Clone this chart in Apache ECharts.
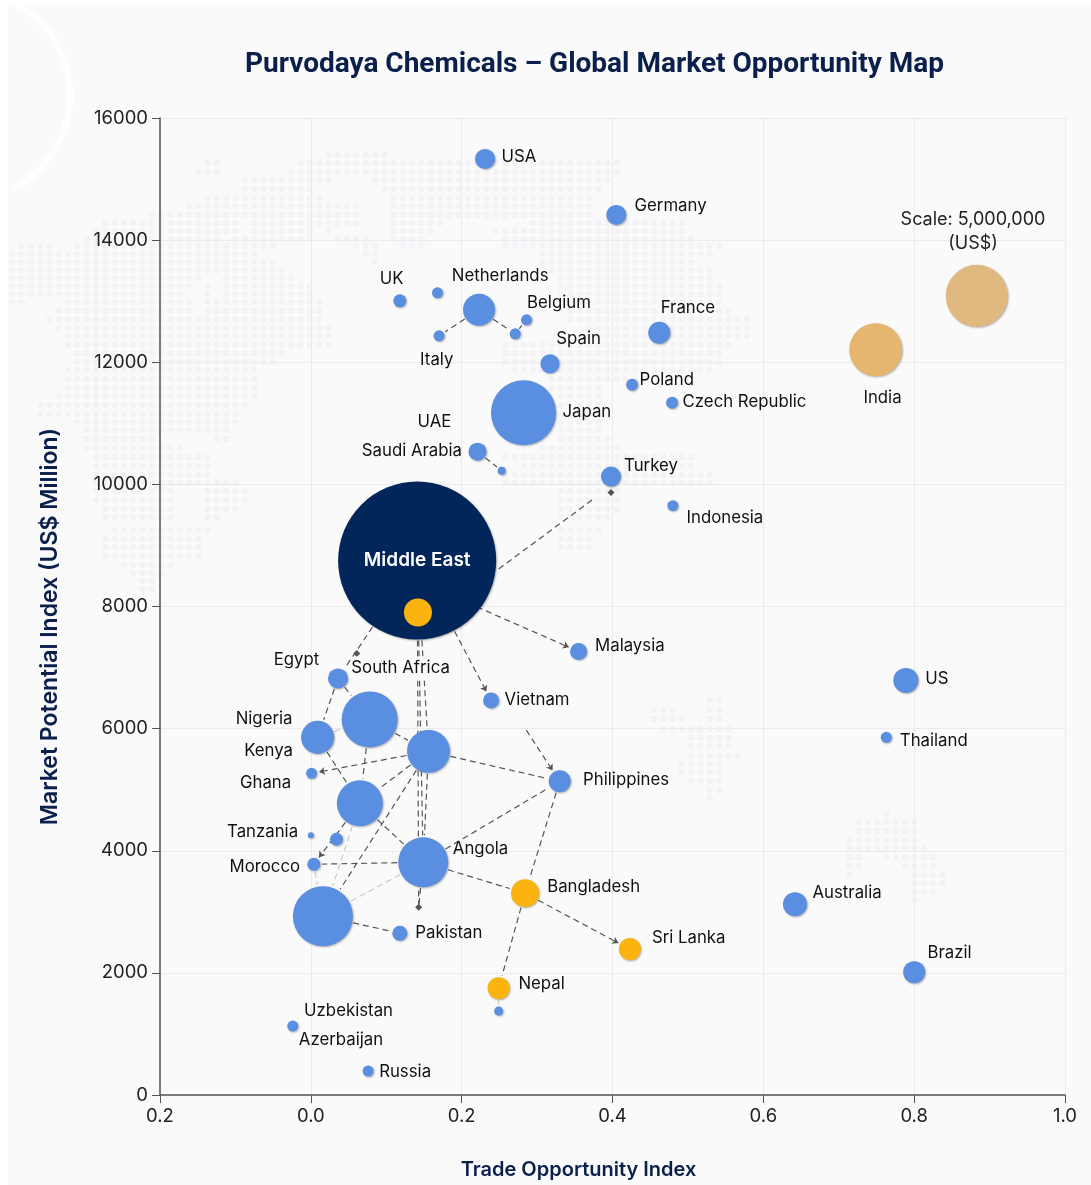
<!DOCTYPE html>
<html>
<head>
<meta charset="utf-8">
<title>Global Market Opportunity Map</title>
<script src="https://cdn.jsdelivr.net/npm/echarts@6/dist/echarts.min.js"></script>
<style>
  html, body { margin: 0; padding: 0; background: #ffffff; }
  #chart { width: 1091px; height: 1185px; }
</style>
</head>
<body>
<div id="chart"></div>
<script>
// bubbles: trade index, market potential, market size in US$
const bubbleNames = ['USA', 'Germany', 'UK', 'Netherlands', 'Hub North', 'Belgium', 'Link Dot', 'Italy', 'France', 'Spain', 'Poland', 'Czech Republic', 'Japan', 'Saudi Arabia', 'UAE', 'Turkey', 'Indonesia', 'Middle East', 'Middle East Core', 'Malaysia', 'Egypt', 'Vietnam', 'South Africa', 'Nigeria', 'Kenya', 'Ghana', 'Philippines', 'Hub Central', 'Tanzania', 'Hub Dot', 'Morocco', 'Angola', 'Bangladesh', 'Hub South', 'Pakistan', 'Sri Lanka', 'Nepal', 'Nepal Dot', 'Brazil', 'Australia', 'Thailand', 'US', 'Uzbekistan', 'Russia', 'India', 'Scale'];
const tradeIndex = [0.231, 0.405, 0.118, 0.168, 0.223, 0.286, 0.271, 0.170, 0.462, 0.317, 0.426, 0.479, 0.282, 0.221, 0.253, 0.398, 0.480, 0.141, 0.142, 0.355, 0.036, 0.239, 0.078, 0.009, 0.156, 0.001, 0.330, 0.065, 0.000, 0.034, 0.004, 0.149, 0.284, 0.016, 0.118, 0.423, 0.249, 0.249, 0.800, 0.642, 0.763, 0.789, -0.024, 0.076, 0.749, 0.883];
const marketPotential = [15330, 14413, 13006, 13137, 12859, 12695, 12466, 12433, 12482, 11975, 11632, 11337, 11174, 10536, 10225, 10127, 9652, 8752, 7902, 7264, 6822, 6462, 6151, 5857, 5628, 5268, 5137, 4777, 4254, 4188, 3779, 3812, 3305, 2928, 2650, 2389, 1750, 1374, 2012, 3125, 5857, 6789, 1129, 393, 12205, 13088];
const marketSize = [520000, 520000, 220000, 157000, 1330000, 157000, 157000, 157000, 630000, 470000, 187000, 187000, 5500000, 421000, 83000, 520000, 157000, 32500000, 1020000, 376000, 520000, 333000, 4080000, 1420000, 2400000, 157000, 630000, 2750000, 47000, 220000, 220000, 3250000, 1020000, 4680000, 293000, 630000, 630000, 105000, 630000, 750000, 157000, 813000, 157000, 157000, 3650000, 5000000];
const highlightBubbles = ['Middle East Core', 'Bangladesh', 'Sri Lanka', 'Nepal'];

// text labels, placed in data units
const labelTexts = ['USA', 'Germany', 'Scale: 5,000,000\n(US$)', 'UK', 'Netherlands', 'Belgium', 'France', 'Spain', 'Italy', 'Poland', 'Czech Republic', 'Japan', 'India', 'UAE', 'Saudi Arabia', 'Turkey', 'Indonesia', 'Middle East', 'Malaysia', 'Egypt', 'South Africa', 'Vietnam', 'US', 'Nigeria', 'Thailand', 'Kenya', 'Philippines', 'Ghana', 'Tanzania', 'Morocco', 'Angola', 'Australia', 'Bangladesh', 'Sri Lanka', 'Pakistan', 'Brazil', 'Nepal', 'Uzbekistan', 'Azerbaijan', 'Russia'];
const labelX = [0.276, 0.477, 0.878, 0.107, 0.251, 0.329, 0.500, 0.355, 0.167, 0.472, 0.575, 0.366, 0.758, 0.164, 0.134, 0.451, 0.549, 0.141, 0.423, -0.019, 0.119, 0.300, 0.830, -0.062, 0.826, -0.056, 0.418, -0.060, -0.064, -0.061, 0.225, 0.711, 0.375, 0.501, 0.183, 0.847, 0.306, 0.050, 0.040, 0.125];
const labelY = [15378, 14577, 14151, 13382, 13431, 12990, 12908, 12401, 12057, 11730, 11370, 11207, 11436, 11043, 10569, 10323, 9472, 8769, 7378, 7149, 7002, 6479, 6822, 6168, 5808, 5644, 5170, 5121, 4319, 3746, 4041, 3321, 3419, 2585, 2667, 2339, 1832, 1391, 916, 393];

// little diamonds sitting on some links, and the loose ends of links
const diamondX = [0.398, 0.061, 0.143];
const diamondY = [9865, 7231, 3076];
const looseEnds = {
  'Pakistan Mark': [0.143, 3076],
  'Vietnam Tail': [0.285, 5988],
  'Middle East Foot': [0.219, 8000],
  'Middle East Flank': [0.248, 8606],
  'Turkey Tail': [0.379, 9800]
};

const plainLinks = [
  ['Middle East Flank', 'Turkey Tail'], ['Middle East', 'Egypt'], ['Middle East', 'Kenya'], ['Middle East', 'Angola'],
  ['Middle East', 'Pakistan Mark'], ['Egypt', 'Nigeria'], ['Egypt', 'South Africa'], ['South Africa', 'Kenya'],
  ['Nigeria', 'Hub Central'], ['South Africa', 'Hub Central'], ['Kenya', 'Philippines'], ['Kenya', 'Hub Central'],
  ['Kenya', 'Hub South'], ['Kenya', 'Angola'], ['Hub Central', 'Angola'], ['Angola', 'Morocco'],
  ['Angola', 'Philippines'], ['Angola', 'Bangladesh'], ['Philippines', 'Bangladesh'], ['Bangladesh', 'Nepal'],
  ['Angola', 'Pakistan Mark'], ['Hub North', 'Italy'], ['Hub North', 'Link Dot'], ['Link Dot', 'Belgium'],
  ['Saudi Arabia', 'UAE'], ['Hub South', 'Pakistan']
];
const arrowLinks = [
  ['Middle East Foot', 'Malaysia'], ['Middle East', 'Vietnam'], ['Kenya', 'Ghana'], ['Hub Central', 'Morocco'],
  ['Bangladesh', 'Sri Lanka'], ['Vietnam Tail', 'Philippines']
];
const faintLinks = [
  ['Nigeria', 'South Africa'], ['Morocco', 'Hub South'], ['Angola', 'Hub South'], ['Nepal', 'Nepal Dot'], ['Hub Central', 'Hub South']
];

const xTickLabels = ['0.2', '0.0', '0.2', '0.4', '0.6', '0.8', '1.0'];

// faint dotted world map behind the plot: y, then x from/to pairs
const backdropRows = [
  [152,328,387],[160,203,215,300,620],[169,192,215,292,620],[177,238,330,375,610],[186,238,312,385,600],[195,202,320,395,590],
  [203,183,358,395,590],[212,153,358,395,590],[220,104,233,247,358,393,440,533,687],[228,95,233,247,310,328,332,393,433,493,687],
  [236,85,217,237,310,335,370,393,427,502,697],[243,23,47,73,270,353,380,403,427,502,717],[251,8,260,365,380,535,707],[259,8,270,375,380,535,697],
  [267,8,287,535,707],[275,8,197,220,297,555,707],[283,8,187,200,206,220,310,557,717],[291,8,180,200,206,220,313,557,717],
  [299,8,20,63,187,202,323,567,723],[308,53,187,202,323,567,733],[316,43,323,567,747],[325,53,332,590,747],[333,63,332,590,747],
  [342,65,332,500,727],[350,73,287,500,717],[359,73,270,500,717],[367,63,260,510,707],[376,63,252,547,650],[385,63,252,547,597],
  [393,53,252,557,597],[402,33,243,557,597],[411,33,233,557,597],[419,73,233,557,597],[427,83,225,557,597],[436,83,157,210,225,557,613],
  [445,83,180,543,623],[454,93,207,500,697],[463,93,207,520,697],[472,93,207,500,707],[480,93,233,500,707],[488,97,173,202,243,557,623],
  [497,97,173,202,243,557,623],[506,103,173,202,233,557,623],[514,103,173,202,216,557,613],[527,115,207,557,597],[536,105,197,557,587],
  [544,105,197,557,587],[553,105,197],[562,125,175],[570,133,167],[578,143,157],[586,143,157],
  [697,703,717],[707,648,678,703,717],[716,648,688,703,717],[726,658,727],[735,687,727],[743,687,727],[753,685,735],[761,677,717],
  [769,677,717],[778,685,717],[787,705,717],[795,705,710],
  [811,880,890],[819,860,913],[828,860,913],[837,850,918],[845,850,927],[854,850,860,887,935],[863,850,860,898,935],[872,850,855,907,943],
  [880,913,943],[889,913,935],[897,913,918]
];

const navy = '#0b1f4b';
const textFont = 'Inter';
const gridBox = { left: 160, right: 26, top: 118, bottom: 89 };
const xMin = -0.2, xMax = 1.0, yMin = 0, yMax = 16000;
const pxPerX = (1091 - gridBox.left - gridBox.right) / (xMax - xMin);
const pxPerY = (1185 - gridBox.top - gridBox.bottom) / (yMax - yMin);

function bubbleDiameter(size) {
  // the scale bubble of 5,000,000 is 62px across
  return 62 * Math.sqrt(size / 5000000);
}

function nodeOf(name) {
  if (looseEnds[name]) return { x: looseEnds[name][0], y: looseEnds[name][1], r: 0 };
  const i = bubbleNames.indexOf(name);
  return { x: tradeIndex[i], y: marketPotential[i], r: bubbleDiameter(marketSize[i]) / 2 };
}

// stop each link at the rim of its bubbles so arrow heads stay visible
function linkCoords(pair) {
  const a = nodeOf(pair[0]), b = nodeOf(pair[1]);
  const dx = (b.x - a.x) * pxPerX, dy = (b.y - a.y) * pxPerY;
  const len = Math.sqrt(dx * dx + dy * dy);
  const ta = (a.r + 1) / len, tb = (b.r + 2) / len;
  return {
    coords: [
      [a.x + (b.x - a.x) * ta, a.y + (b.y - a.y) * ta],
      [b.x - (b.x - a.x) * tb, b.y - (b.y - a.y) * tb]
    ]
  };
}

function bubbleColor(name) {
  if (name === 'Middle East') return '#03265a';
  if (name === 'India') return '#e6b56f';
  if (name === 'Scale') return '#e0b880';
  return highlightBubbles.includes(name) ? '#fbb40f' : '#5a8ee0';
}

const bubbleData = bubbleNames.map((name, i) => ({
  name: name,
  value: [tradeIndex[i], marketPotential[i], marketSize[i]],
  itemStyle: { color: bubbleColor(name) }
}));

const labelData = labelTexts.map((text, i) => {
  const item = { value: [labelX[i], labelY[i]], name: text };
  if (text === 'Middle East') item.label = { color: '#ffffff', fontWeight: 600, fontSize: 19 };
  if (text === 'South Africa') item.label = { backgroundColor: '#fafafb' };
  if (text.startsWith('Scale')) item.label = { fontSize: 18, color: '#222222' };
  return item;
});

const backdrop = [];
backdropRows.forEach((row) => {
  for (let k = 1; k < row.length; k += 2) {
    // keep the dots on one shared 9.3px column grid
    for (let col = Math.round(row[k] / 9.3); col * 9.3 <= row[k + 1]; col++) {
      backdrop.push({
        type: 'rect', silent: true, z: -1,
        shape: { x: col * 9.3, y: row[0], width: 6, height: 6, r: 2 },
        style: { fill: '#f3f3f7' }
      });
    }
  }
});

const linkStyle = { color: '#555555', width: 1.2, type: [6, 4], opacity: 1 };

var myChart = echarts.init(document.getElementById('chart'));
var option = {
  animation: false,
  textStyle: { fontFamily: textFont },
  title: {
    text: 'Purvodaya Chemicals – Global Market Opportunity Map',
    left: 589.5,
    top: 46,
    textAlign: 'center',
    textStyle: { color: navy, fontSize: 28, fontWeight: 700, fontFamily: 'Roboto' }
  },
  graphic: {
    elements: [
      {
        type: 'rect', silent: true, z: -3,
        shape: { x: 8, y: 5, width: 1083, height: 1180 },
        style: { fill: '#fafafb' }
      },
      {
        type: 'arc', silent: true, z: -2,
        shape: { cx: -35, cy: 95, r: 105, startAngle: -1.1, endAngle: 1.1 },
        style: { stroke: '#ffffff', lineWidth: 7, fill: null, opacity: 0.7 }
      },
      { type: 'group', silent: true, z: -1, children: backdrop }
    ]
  },
  grid: {
    left: gridBox.left,
    right: gridBox.right,
    top: gridBox.top,
    bottom: gridBox.bottom,
    containLabel: false
  },
  xAxis: {
    type: 'value',
    min: xMin,
    max: xMax,
    interval: 0.2,
    name: 'Trade Opportunity Index',
    nameLocation: 'middle',
    nameGap: 65,
    nameTextStyle: { color: navy, fontSize: 20, fontWeight: 600, padding: [0, 68, 0, 0] },
    axisLine: { show: true, onZero: false, lineStyle: { color: '#555555', width: 1.5 } },
    axisTick: { show: true, length: 8, lineStyle: { color: '#555555' } },
    axisLabel: {
      color: '#222222',
      fontSize: 18.5,
      margin: 12,
      showMinLabel: true,
      showMaxLabel: true,
      formatter: (value, index) => xTickLabels[index]
    },
    splitLine: { show: true, lineStyle: { color: '#ebebed', width: 1 } }
  },
  yAxis: {
    type: 'value',
    min: yMin,
    max: yMax,
    interval: 2000,
    name: 'Market Potential Index (US$ Million)',
    nameLocation: 'middle',
    nameGap: 98,
    nameTextStyle: { color: navy, fontSize: 23, fontWeight: 600, padding: [0, 40, 0, 0] },
    axisLine: { show: true, onZero: false, lineStyle: { color: '#555555', width: 1.5 } },
    axisTick: { show: true, length: 8, lineStyle: { color: '#555555' } },
    axisLabel: {
      color: '#222222',
      fontSize: 18.5,
      margin: 12,
      showMinLabel: true,
      showMaxLabel: true,
      formatter: (value) => String(value)
    },
    splitLine: { show: true, lineStyle: { color: '#ebebed', width: 1 } }
  },
  series: [
    {
      name: 'Faint links',
      type: 'lines',
      coordinateSystem: 'cartesian2d',
      z: 2,
      symbol: 'none',
      lineStyle: { color: '#cfc9c4', width: 1.2, type: [6, 4], opacity: 1 },
      data: faintLinks.map(linkCoords)
    },
    {
      name: 'Links',
      type: 'lines',
      coordinateSystem: 'cartesian2d',
      z: 3,
      symbol: 'none',
      lineStyle: linkStyle,
      data: plainLinks.map(linkCoords)
    },
    {
      name: 'Arrow links',
      type: 'lines',
      coordinateSystem: 'cartesian2d',
      z: 3,
      symbol: ['none', 'arrow'],
      symbolSize: 6,
      lineStyle: linkStyle,
      data: arrowLinks.map(linkCoords)
    },
    {
      name: 'Link marks',
      type: 'scatter',
      z: 4,
      symbol: 'diamond',
      symbolSize: 7,
      itemStyle: { color: '#555555', opacity: 1 },
      data: diamondX.map((x, i) => [x, diamondY[i]])
    },
    {
      name: 'Markets',
      type: 'scatter',
      z: 5,
      symbolSize: (value) => bubbleDiameter(value[2]),
      itemStyle: {
        opacity: 1,
        shadowColor: 'rgba(40, 40, 40, 0.35)',
        shadowBlur: 2,
        shadowOffsetX: 1,
        shadowOffsetY: 1
      },
      data: bubbleData
    },
    {
      name: 'Labels',
      type: 'scatter',
      z: 6,
      symbolSize: 1,
      itemStyle: { color: 'rgba(0, 0, 0, 0)', opacity: 1 },
      label: {
        show: true,
        position: 'inside',
        offset: [0, 1],
        formatter: '{b}',
        color: '#111111',
        fontSize: 16.8,
        lineHeight: 24,
        fontFamily: textFont
      },
      data: labelData
    }
  ]
};
myChart.setOption(option);
</script>
</body>
</html>
